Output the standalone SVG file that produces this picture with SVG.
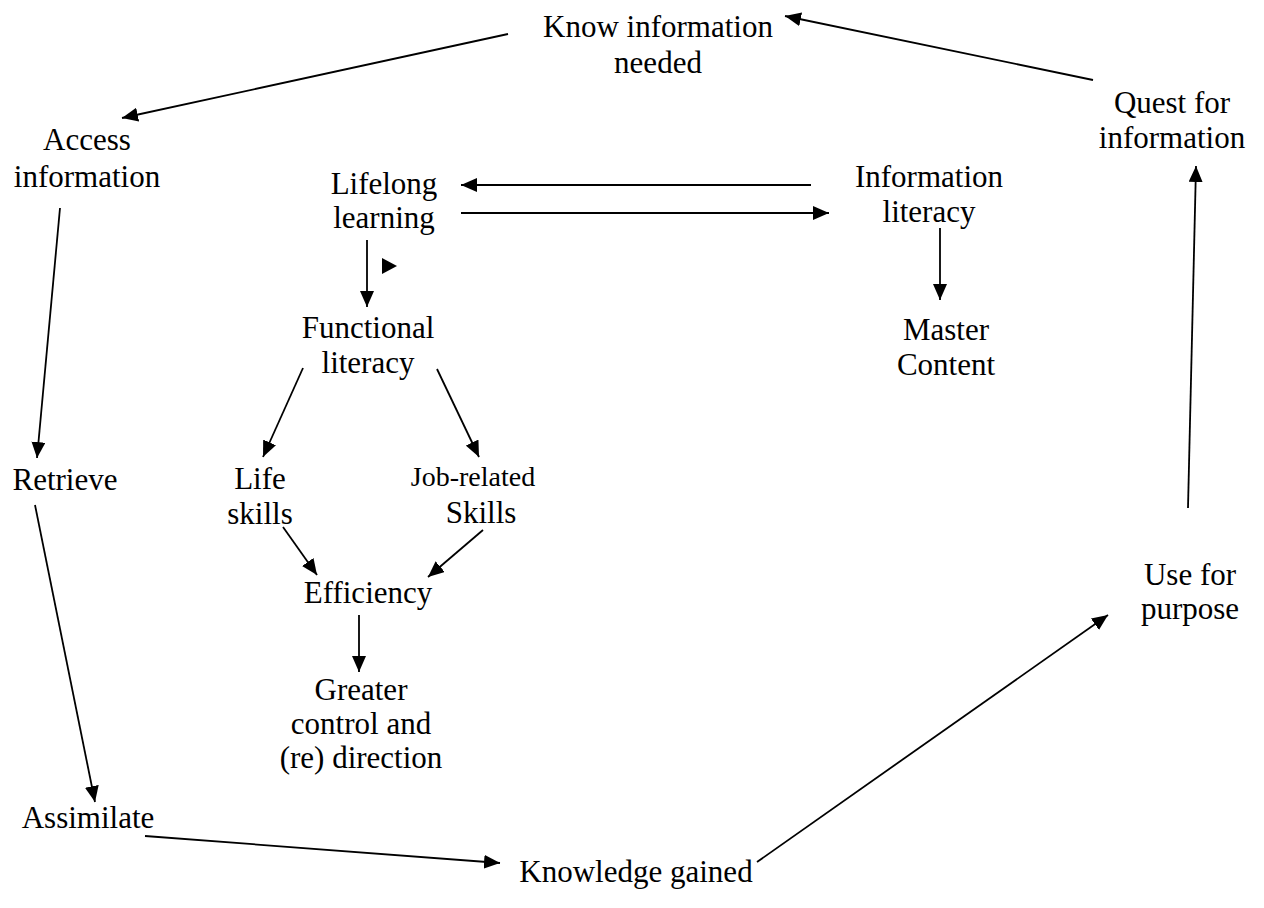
<svg xmlns="http://www.w3.org/2000/svg" width="1264" height="908" viewBox="0 0 1264 908">
<style>
text{font-family:"Liberation Serif","Times New Roman",serif;font-size:31px;fill:#000;text-anchor:middle}
.sm{font-size:28px}
.c line{stroke:#000;stroke-width:1.8;marker-end:url(#ah)}
</style>
<defs>
<marker id="ah" markerUnits="userSpaceOnUse" markerWidth="17" markerHeight="14" refX="16" refY="7" orient="auto">
<path d="M0,0 L16,7 L0,14 z" fill="#000"/>
</marker>
</defs>
<rect width="1264" height="908" fill="#fff"/>
<g class="c" id="connectors">
<line x1="508" y1="34" x2="122" y2="118"/>
<line x1="1093" y1="80" x2="785" y2="16"/>
<line x1="60" y1="208" x2="37" y2="458"/>
<line x1="35" y1="505" x2="95" y2="802"/>
<line x1="145" y1="836" x2="500" y2="863"/>
<line x1="757" y1="862" x2="1108" y2="615"/>
<line x1="1188" y1="508" x2="1196" y2="166"/>
<line x1="811" y1="185" x2="461" y2="185"/>
<line x1="461" y1="213" x2="829" y2="213"/>
<line x1="367" y1="240" x2="367" y2="307"/>
<line x1="940" y1="228" x2="940" y2="300"/>
<line x1="303" y1="368" x2="263" y2="457"/>
<line x1="437" y1="369" x2="479" y2="457"/>
<line x1="283" y1="527" x2="317" y2="575"/>
<line x1="483" y1="530" x2="428" y2="577"/>
<line x1="359" y1="615" x2="359" y2="672"/>
<path d="M382,258 L397,266 L382,274 z" fill="#000" stroke="none"/>
</g>
<g id="know"><text x="658" y="37">Know information</text><text x="658" y="73">needed</text></g>
<g id="access"><text x="87" y="150">Access</text><text x="87" y="187">information</text></g>
<g id="quest"><text x="1172" y="113">Quest for</text><text x="1172" y="148">information</text></g>
<g id="lifelong"><text x="384" y="194">Lifelong</text><text x="384" y="228">learning</text></g>
<g id="infolit"><text x="929" y="187">Information</text><text x="929" y="222">literacy</text></g>
<g id="master"><text x="946" y="340">Master</text><text x="946" y="375">Content</text></g>
<g id="functional"><text x="368" y="338">Functional</text><text x="368" y="373">literacy</text></g>
<g id="retrieve"><text x="65" y="490">Retrieve</text></g>
<g id="life"><text x="260" y="489">Life</text><text x="260" y="524">skills</text></g>
<g id="job"><text class="sm" x="473" y="486">Job-related</text><text x="481" y="523">Skills</text></g>
<g id="efficiency"><text x="368" y="603">Efficiency</text></g>
<g id="greater"><text x="361" y="700">Greater</text><text x="361" y="734">control and</text><text x="361" y="768">(re) direction</text></g>
<g id="assimilate"><text x="88" y="828">Assimilate</text></g>
<g id="knowledge"><text x="636" y="882">Knowledge gained</text></g>
<g id="use"><text x="1190" y="585">Use for</text><text x="1190" y="619">purpose</text></g>
</svg>
